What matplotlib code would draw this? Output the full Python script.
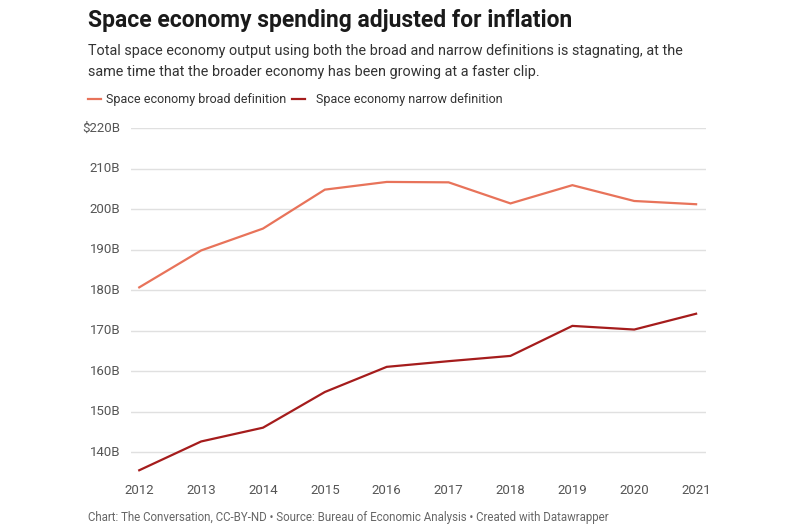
import matplotlib
matplotlib.use("Agg")
import matplotlib.pyplot as plt

years = [2012, 2013, 2014, 2015, 2016, 2017, 2018, 2019, 2020, 2021]
broad = [180.7, 189.8, 195.2, 204.8, 206.7, 206.6, 201.4, 205.9, 202.0, 201.2]
narrow = [135.6, 142.7, 146.1, 154.9, 161.1, 162.5, 163.8, 171.2, 170.3, 174.2]
yticks = [140, 150, 160, 170, 180, 190, 200, 210, 220]
ytick_labels = ["140B", "150B", "160B", "170B", "180B", "190B", "200B", "210B", "$220B"]
series_names = ["Space economy broad definition", "Space economy narrow definition"]

plt.rcParams['font.family'] = ['Roboto', 'DejaVu Sans']

fig = plt.figure(figsize=(8, 5.3), dpi=100)
ax = fig.add_axes([0.164, 0.102, 0.7185, 0.6565])

c_broad = "#e8735a"
c_narrow = "#a51c1c"
ax.plot(years, broad, color=c_broad, lw=1.6, solid_joinstyle='miter')
ax.plot(years, narrow, color=c_narrow, lw=1.6, solid_joinstyle='miter')

ax.set_xlim(2011.87, 2021.16)
ax.set_ylim(134.2, 220)
ax.set_yticks(yticks)
ax.set_yticklabels(ytick_labels)
ax.set_xticks(years)
ax.set_xticklabels([str(y) for y in years])
ax.grid(axis='y', color='#e0e0e0', lw=1)
ax.set_axisbelow(True)
for s in ax.spines.values():
    s.set_visible(False)
ax.tick_params(axis='both', length=0, colors='#555555', labelsize=9.5)
ax.tick_params(axis='y', pad=8)
ax.tick_params(axis='x', pad=6)
for lab in ax.get_yticklabels():
    lab.set_verticalalignment('center')

fig.text(88/800, 1 - 27/530, "Space economy spending adjusted for inflation",
         fontsize=16.5, fontweight='bold', color='#1a1a1a', va='baseline')
fig.text(88/800, 1 - 55/530, "Total space economy output using both the broad and narrow definitions is stagnating, at the",
         fontsize=10.4, color='#333333', va='baseline')
fig.text(88/800, 1 - 76/530, "same time that the broader economy has been growing at a faster clip.",
         fontsize=10.4, color='#333333', va='baseline')

# legend
ly = 1 - 99/530
fig.lines.append(plt.Line2D([88/800, 101/800], [ly, ly], transform=fig.transFigure, color=c_broad, lw=1.6))
fig.text(106/800, ly, series_names[0], fontsize=9.0, color='#333333', va='center')
fig.lines.append(plt.Line2D([292/800, 305/800], [ly, ly], transform=fig.transFigure, color=c_narrow, lw=1.6))
fig.text(316/800, ly, series_names[1], fontsize=9.0, color='#333333', va='center')

fig.text(88/800, 1 - 521/530, "Chart: The Conversation, CC-BY-ND • Source: Bureau of Economic Analysis • Created with Datawrapper",
         fontsize=8.3, color='#666666', va='baseline')

fig.savefig("out.png", dpi=100, facecolor='white')
